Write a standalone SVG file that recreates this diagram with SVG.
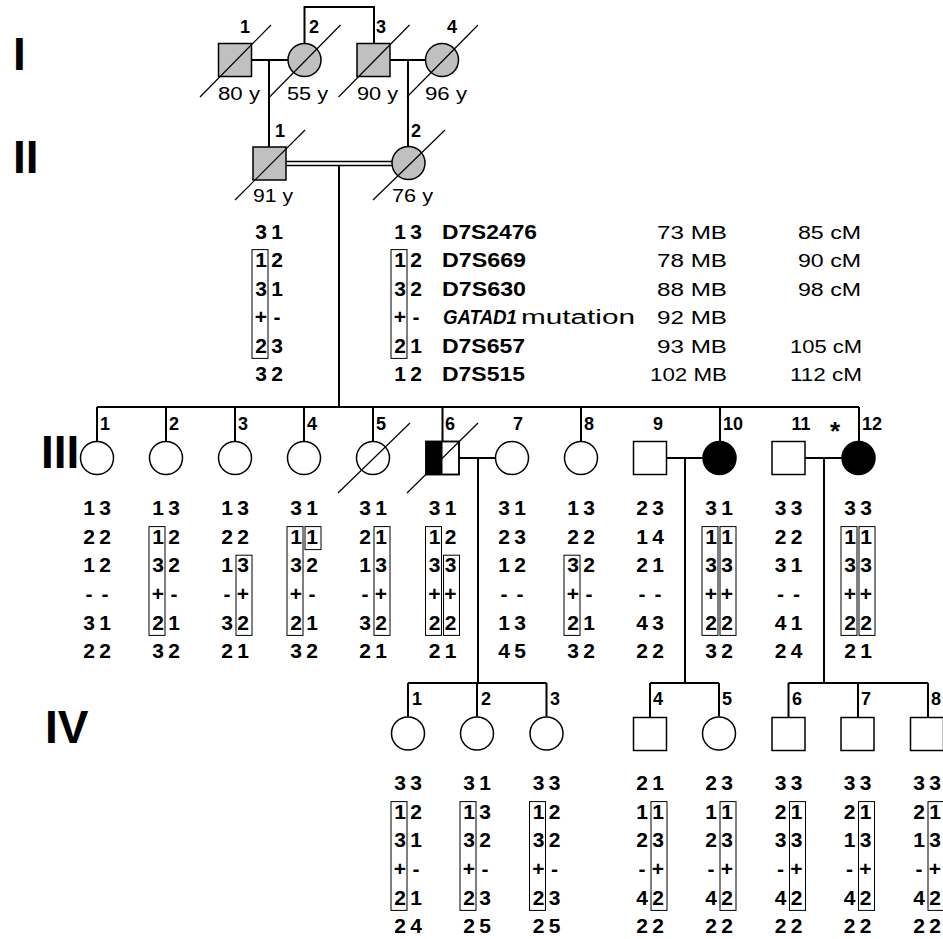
<svg xmlns="http://www.w3.org/2000/svg" width="943" height="939" viewBox="0 0 943 939">
<style>
.ln{stroke:#000;stroke-width:2;fill:none}
.sym{stroke:#000;stroke-width:1.5;fill:#fff}
.dec{fill:#c0c0c0}
.aff{fill:#000}
.sl{stroke:#000;stroke-width:1.2}
.bx{fill:none;stroke:#000;stroke-width:1}
.gen{font-family:"Liberation Sans",Arial,sans-serif;font-weight:bold;font-size:46px}
.id{font-family:"Liberation Sans",Arial,sans-serif;font-weight:bold;font-size:18px}
.idm{font-family:"Liberation Sans",Arial,sans-serif;font-weight:bold;font-size:18px;text-anchor:middle}
.hp{font-family:"Liberation Sans",Arial,sans-serif;font-weight:bold;font-size:21px;text-anchor:middle}
.age{font-family:"Liberation Sans",Arial,sans-serif;font-size:18px}
.mk{font-family:"Liberation Sans",Arial,sans-serif;font-weight:bold;font-size:20px}
.nm{font-family:"Liberation Sans",Arial,sans-serif;font-size:20px}
.nme{font-family:"Liberation Sans",Arial,sans-serif;font-size:18px;text-anchor:end}
</style>

<g id="generation-labels">
<text class="gen" x="13" y="70">I</text>
<text class="gen" x="13" y="173">II</text>
<text class="gen" x="41" y="468">III</text>
<text class="gen" x="45" y="743">IV</text>
</g>

<g id="connectors">
<path class="ln" d="M251.5 60H288M269 60V147M304.5 43.5V7H374V43.5M390 60H425.5M408 60V146.5"/>
<path class="ln" style="stroke-width:1.5" d="M286 161.5H392M286 165.5H392"/>
<path class="ln" d="M339 165.5V407M97 407H859"/>
<path class="ln" d="M97 407V441.5M166 407V441.5M235 407V441.5M304 407V441.5M373 407V441.5M442.5 407V441.5M581 407V441.5M720 407V441.5M859 407V441.5"/>
<path class="ln" d="M459 458H495.5M478 458V683M408 683H546.5M408 683V716.5M477 683V716.5M546.5 683V716.5"/>
<path class="ln" d="M666.5 458H702.5M685 458V683M650 683H719M650 683V717.5M719 683V716.5"/>
<path class="ln" d="M805 458H841.5M824 458V683M788.5 683H928M788.5 683V717.5M858 683V717.5M928 683V717.5"/>
</g>

<g id="I-1">
<rect class="sym dec" x="218.5" y="43.5" width="33" height="33"/>
<line class="sl" x1="200" y1="97" x2="271" y2="25"/>
<text class="idm" x="245" y="33">1</text>
<text class="age" x="218" y="100" textLength="42" lengthAdjust="spacingAndGlyphs">80 y</text>
</g>
<g id="I-2">
<circle class="sym dec" cx="304.5" cy="60" r="16.5"/>
<line class="sl" x1="269.5" y1="97" x2="340.5" y2="25"/>
<text class="id" x="309" y="33">2</text>
<text class="age" x="287" y="100" textLength="41" lengthAdjust="spacingAndGlyphs">55 y</text>
</g>
<g id="I-3">
<rect class="sym dec" x="357" y="43.5" width="33" height="33"/>
<line class="sl" x1="338.5" y1="97" x2="409.5" y2="25"/>
<text class="id" x="376" y="33">3</text>
<text class="age" x="357" y="100" textLength="41" lengthAdjust="spacingAndGlyphs">90 y</text>
</g>
<g id="I-4">
<circle class="sym dec" cx="442" cy="60" r="16.5"/>
<line class="sl" x1="407" y1="97" x2="478" y2="25"/>
<text class="idm" x="452" y="33">4</text>
<text class="age" x="425" y="100" textLength="42" lengthAdjust="spacingAndGlyphs">96 y</text>
</g>

<g id="II-1">
<rect class="sym dec" x="253" y="147" width="33" height="33"/>
<line class="sl" x1="235" y1="200" x2="305" y2="130"/>
<text class="id" x="275" y="137">1</text>
<text class="age" x="253" y="202" textLength="40" lengthAdjust="spacingAndGlyphs">91 y</text>
<rect class="bx" x="252" y="249.6" width="16" height="108.8"/>
<text class="hp" y="238.5"><tspan x="261">3</tspan><tspan x="277">1</tspan></text>
<text class="hp" y="267"><tspan x="261">1</tspan><tspan x="277">2</tspan></text>
<text class="hp" y="295.5"><tspan x="261">3</tspan><tspan x="277">1</tspan></text>
<text class="hp" y="324"><tspan x="261">+</tspan><tspan x="277">-</tspan></text>
<text class="hp" y="352.5"><tspan x="261">2</tspan><tspan x="277">3</tspan></text>
<text class="hp" y="381"><tspan x="261">3</tspan><tspan x="277">2</tspan></text>
</g>
<g id="II-2">
<circle class="sym dec" cx="408.5" cy="163" r="16.5"/>
<line class="sl" x1="373" y1="200" x2="445" y2="130"/>
<text class="id" x="411" y="137">2</text>
<text class="age" x="392" y="202" textLength="41" lengthAdjust="spacingAndGlyphs">76 y</text>
<rect class="bx" x="391" y="249.6" width="16" height="108.8"/>
<text class="hp" y="238.5"><tspan x="400">1</tspan><tspan x="416">3</tspan></text>
<text class="hp" y="267"><tspan x="400">1</tspan><tspan x="416">2</tspan></text>
<text class="hp" y="295.5"><tspan x="400">3</tspan><tspan x="416">2</tspan></text>
<text class="hp" y="324"><tspan x="400">+</tspan><tspan x="416">-</tspan></text>
<text class="hp" y="352.5"><tspan x="400">2</tspan><tspan x="416">1</tspan></text>
<text class="hp" y="381"><tspan x="400">1</tspan><tspan x="416">2</tspan></text>
</g>

<g id="marker-legend">
<text class="mk" x="442" y="238.5" textLength="95" lengthAdjust="spacingAndGlyphs">D7S2476</text>
<text class="mk" x="442" y="267" textLength="84" lengthAdjust="spacingAndGlyphs">D7S669</text>
<text class="mk" x="442" y="295.5" textLength="84" lengthAdjust="spacingAndGlyphs">D7S630</text>
<text class="mk" x="443" y="324" style="font-style:italic" textLength="74" lengthAdjust="spacingAndGlyphs">GATAD1</text>
<text class="nm" x="521" y="324" textLength="114" lengthAdjust="spacingAndGlyphs">mutation</text>
<text class="mk" x="442" y="352.5" textLength="83" lengthAdjust="spacingAndGlyphs">D7S657</text>
<text class="mk" x="442" y="381" textLength="83" lengthAdjust="spacingAndGlyphs">D7S515</text>
<text class="nme" x="727" y="238.5" textLength="70" lengthAdjust="spacingAndGlyphs">73 MB</text>
<text class="nme" x="727" y="267" textLength="70" lengthAdjust="spacingAndGlyphs">78 MB</text>
<text class="nme" x="727" y="295.5" textLength="70" lengthAdjust="spacingAndGlyphs">88 MB</text>
<text class="nme" x="727" y="324" textLength="70" lengthAdjust="spacingAndGlyphs">92 MB</text>
<text class="nme" x="727" y="352.5" textLength="70" lengthAdjust="spacingAndGlyphs">93 MB</text>
<text class="nme" x="727" y="381" textLength="77" lengthAdjust="spacingAndGlyphs">102 MB</text>
<text class="nme" x="861" y="238.5" textLength="63" lengthAdjust="spacingAndGlyphs">85 cM</text>
<text class="nme" x="861" y="267" textLength="63" lengthAdjust="spacingAndGlyphs">90 cM</text>
<text class="nme" x="861" y="295.5" textLength="63" lengthAdjust="spacingAndGlyphs">98 cM</text>
<text class="nme" x="862" y="352.5" textLength="72" lengthAdjust="spacingAndGlyphs">105 cM</text>
<text class="nme" x="862" y="381" textLength="72" lengthAdjust="spacingAndGlyphs">112 cM</text>
</g>

<g id="III-1">
<circle class="sym" cx="97" cy="458" r="16.5"/>
<text class="id" x="100" y="430">1</text>
<text class="hp" y="515"><tspan x="89">1</tspan><tspan x="105">3</tspan></text>
<text class="hp" y="543.5"><tspan x="89">2</tspan><tspan x="105">2</tspan></text>
<text class="hp" y="572"><tspan x="89">1</tspan><tspan x="105">2</tspan></text>
<text class="hp" y="601"><tspan x="89">-</tspan><tspan x="105">-</tspan></text>
<text class="hp" y="629.5"><tspan x="89">3</tspan><tspan x="105">1</tspan></text>
<text class="hp" y="658"><tspan x="89">2</tspan><tspan x="105">2</tspan></text>
</g>
<g id="III-2">
<circle class="sym" cx="166" cy="458" r="16.5"/>
<text class="id" x="169" y="430">2</text>
<rect class="bx" x="149" y="526.6" width="16" height="108.8"/>
<text class="hp" y="515"><tspan x="158">1</tspan><tspan x="174">3</tspan></text>
<text class="hp" y="543.5"><tspan x="158">1</tspan><tspan x="174">2</tspan></text>
<text class="hp" y="572"><tspan x="158">3</tspan><tspan x="174">2</tspan></text>
<text class="hp" y="601"><tspan x="158">+</tspan><tspan x="174">-</tspan></text>
<text class="hp" y="629.5"><tspan x="158">2</tspan><tspan x="174">1</tspan></text>
<text class="hp" y="658"><tspan x="158">3</tspan><tspan x="174">2</tspan></text>
</g>
<g id="III-3">
<circle class="sym" cx="235" cy="458" r="16.5"/>
<text class="id" x="238" y="430">3</text>
<rect class="bx" x="236" y="555.2" width="16" height="80.2"/>
<text class="hp" y="515"><tspan x="227">1</tspan><tspan x="243">3</tspan></text>
<text class="hp" y="543.5"><tspan x="227">2</tspan><tspan x="243">2</tspan></text>
<text class="hp" y="572"><tspan x="227">1</tspan><tspan x="243">3</tspan></text>
<text class="hp" y="601"><tspan x="227">-</tspan><tspan x="243">+</tspan></text>
<text class="hp" y="629.5"><tspan x="227">3</tspan><tspan x="243">2</tspan></text>
<text class="hp" y="658"><tspan x="227">2</tspan><tspan x="243">1</tspan></text>
</g>
<g id="III-4">
<circle class="sym" cx="304" cy="458" r="16.5"/>
<text class="id" x="307" y="430">4</text>
<rect class="bx" x="287" y="526.6" width="16" height="108.8"/>
<rect class="bx" x="305" y="526.6" width="16" height="23"/>
<text class="hp" y="515"><tspan x="296">3</tspan><tspan x="312">1</tspan></text>
<text class="hp" y="543.5"><tspan x="296">1</tspan><tspan x="312">1</tspan></text>
<text class="hp" y="572"><tspan x="296">3</tspan><tspan x="312">2</tspan></text>
<text class="hp" y="601"><tspan x="296">+</tspan><tspan x="312">-</tspan></text>
<text class="hp" y="629.5"><tspan x="296">2</tspan><tspan x="312">1</tspan></text>
<text class="hp" y="658"><tspan x="296">3</tspan><tspan x="312">2</tspan></text>
</g>
<g id="III-5">
<circle class="sym" cx="373" cy="458" r="16.5"/>
<line class="sl" x1="338" y1="493" x2="410" y2="423"/>
<text class="id" x="376" y="430">5</text>
<rect class="bx" x="374" y="526.6" width="16" height="108.8"/>
<text class="hp" y="515"><tspan x="365">3</tspan><tspan x="381">1</tspan></text>
<text class="hp" y="543.5"><tspan x="365">2</tspan><tspan x="381">1</tspan></text>
<text class="hp" y="572"><tspan x="365">1</tspan><tspan x="381">3</tspan></text>
<text class="hp" y="601"><tspan x="365">-</tspan><tspan x="381">+</tspan></text>
<text class="hp" y="629.5"><tspan x="365">3</tspan><tspan x="381">2</tspan></text>
<text class="hp" y="658"><tspan x="365">2</tspan><tspan x="381">1</tspan></text>
</g>
<g id="III-6">
<rect class="sym" x="426" y="441.5" width="33" height="33"/>
<rect class="aff" x="426" y="441.5" width="16.5" height="33"/>
<rect class="sym" x="426" y="441.5" width="33" height="33" style="fill:none"/>
<line class="sl" x1="407" y1="493" x2="478" y2="423"/>
<text class="id" x="445" y="430">6</text>
<rect class="bx" x="425.5" y="526.6" width="16" height="108.8"/>
<rect class="bx" x="443.5" y="555.2" width="16" height="80.2"/>
<text class="hp" y="515"><tspan x="434.5">3</tspan><tspan x="450.5">1</tspan></text>
<text class="hp" y="543.5"><tspan x="434.5">1</tspan><tspan x="450.5">2</tspan></text>
<text class="hp" y="572"><tspan x="434.5">3</tspan><tspan x="450.5">3</tspan></text>
<text class="hp" y="601"><tspan x="434.5">+</tspan><tspan x="450.5">+</tspan></text>
<text class="hp" y="629.5"><tspan x="434.5">2</tspan><tspan x="450.5">2</tspan></text>
<text class="hp" y="658"><tspan x="434.5">2</tspan><tspan x="450.5">1</tspan></text>
</g>
<g id="III-7">
<circle class="sym" cx="512" cy="458" r="16.5"/>
<text class="idm" x="518" y="430">7</text>
<text class="hp" y="515"><tspan x="504">3</tspan><tspan x="520">1</tspan></text>
<text class="hp" y="543.5"><tspan x="504">2</tspan><tspan x="520">3</tspan></text>
<text class="hp" y="572"><tspan x="504">1</tspan><tspan x="520">2</tspan></text>
<text class="hp" y="601"><tspan x="504">-</tspan><tspan x="520">-</tspan></text>
<text class="hp" y="629.5"><tspan x="504">1</tspan><tspan x="520">3</tspan></text>
<text class="hp" y="658"><tspan x="504">4</tspan><tspan x="520">5</tspan></text>
</g>
<g id="III-8">
<circle class="sym" cx="581" cy="458" r="16.5"/>
<text class="id" x="584" y="430">8</text>
<rect class="bx" x="564" y="555.2" width="16" height="80.2"/>
<text class="hp" y="515"><tspan x="573">1</tspan><tspan x="589">3</tspan></text>
<text class="hp" y="543.5"><tspan x="573">2</tspan><tspan x="589">2</tspan></text>
<text class="hp" y="572"><tspan x="573">3</tspan><tspan x="589">2</tspan></text>
<text class="hp" y="601"><tspan x="573">+</tspan><tspan x="589">-</tspan></text>
<text class="hp" y="629.5"><tspan x="573">2</tspan><tspan x="589">1</tspan></text>
<text class="hp" y="658"><tspan x="573">3</tspan><tspan x="589">2</tspan></text>
</g>
<g id="III-9">
<rect class="sym" x="633.5" y="441.5" width="33" height="33"/>
<text class="idm" x="658" y="430">9</text>
<text class="hp" y="515"><tspan x="642">2</tspan><tspan x="658">3</tspan></text>
<text class="hp" y="543.5"><tspan x="642">1</tspan><tspan x="658">4</tspan></text>
<text class="hp" y="572"><tspan x="642">2</tspan><tspan x="658">1</tspan></text>
<text class="hp" y="601"><tspan x="642">-</tspan><tspan x="658">-</tspan></text>
<text class="hp" y="629.5"><tspan x="642">4</tspan><tspan x="658">3</tspan></text>
<text class="hp" y="658"><tspan x="642">2</tspan><tspan x="658">2</tspan></text>
</g>
<g id="III-10">
<circle class="sym aff" cx="719.5" cy="458" r="16.5"/>
<text class="id" x="723" y="430">10</text>
<rect class="bx" x="702" y="526.6" width="16" height="108.8"/>
<rect class="bx" x="720" y="526.6" width="16" height="108.8"/>
<text class="hp" y="515"><tspan x="711">3</tspan><tspan x="727">1</tspan></text>
<text class="hp" y="543.5"><tspan x="711">1</tspan><tspan x="727">1</tspan></text>
<text class="hp" y="572"><tspan x="711">3</tspan><tspan x="727">3</tspan></text>
<text class="hp" y="601"><tspan x="711">+</tspan><tspan x="727">+</tspan></text>
<text class="hp" y="629.5"><tspan x="711">2</tspan><tspan x="727">2</tspan></text>
<text class="hp" y="658"><tspan x="711">3</tspan><tspan x="727">2</tspan></text>
</g>
<g id="III-11">
<rect class="sym" x="772" y="441.5" width="33" height="33"/>
<text class="idm" x="801" y="430">11</text>
<text class="hp" y="515"><tspan x="780.5">3</tspan><tspan x="796.5">3</tspan></text>
<text class="hp" y="543.5"><tspan x="780.5">2</tspan><tspan x="796.5">2</tspan></text>
<text class="hp" y="572"><tspan x="780.5">3</tspan><tspan x="796.5">1</tspan></text>
<text class="hp" y="601"><tspan x="780.5">-</tspan><tspan x="796.5">-</tspan></text>
<text class="hp" y="629.5"><tspan x="780.5">4</tspan><tspan x="796.5">1</tspan></text>
<text class="hp" y="658"><tspan x="780.5">2</tspan><tspan x="796.5">4</tspan></text>
</g>
<g id="III-12">
<circle class="sym aff" cx="858.5" cy="458" r="16.5"/>
<text class="idm" x="835" y="440" style="font-size:26px">*</text>
<text class="id" x="862" y="430">12</text>
<rect class="bx" x="841" y="526.6" width="16" height="108.8"/>
<rect class="bx" x="859" y="526.6" width="16" height="108.8"/>
<text class="hp" y="515"><tspan x="850">3</tspan><tspan x="866">3</tspan></text>
<text class="hp" y="543.5"><tspan x="850">1</tspan><tspan x="866">1</tspan></text>
<text class="hp" y="572"><tspan x="850">3</tspan><tspan x="866">3</tspan></text>
<text class="hp" y="601"><tspan x="850">+</tspan><tspan x="866">+</tspan></text>
<text class="hp" y="629.5"><tspan x="850">2</tspan><tspan x="866">2</tspan></text>
<text class="hp" y="658"><tspan x="850">2</tspan><tspan x="866">1</tspan></text>
</g>

<g id="IV-1">
<circle class="sym" cx="408" cy="733.5" r="16.5"/>
<text class="id" x="412" y="705">1</text>
<rect class="bx" x="391" y="801.6" width="16" height="108.8"/>
<text class="hp" y="790"><tspan x="400">3</tspan><tspan x="416">3</tspan></text>
<text class="hp" y="818.5"><tspan x="400">1</tspan><tspan x="416">2</tspan></text>
<text class="hp" y="847"><tspan x="400">3</tspan><tspan x="416">1</tspan></text>
<text class="hp" y="876"><tspan x="400">+</tspan><tspan x="416">-</tspan></text>
<text class="hp" y="904.5"><tspan x="400">2</tspan><tspan x="416">1</tspan></text>
<text class="hp" y="933"><tspan x="400">2</tspan><tspan x="416">4</tspan></text>
</g>
<g id="IV-2">
<circle class="sym" cx="477" cy="733.5" r="16.5"/>
<text class="id" x="481" y="705">2</text>
<rect class="bx" x="460" y="801.6" width="16" height="108.8"/>
<text class="hp" y="790"><tspan x="469">3</tspan><tspan x="485">1</tspan></text>
<text class="hp" y="818.5"><tspan x="469">1</tspan><tspan x="485">3</tspan></text>
<text class="hp" y="847"><tspan x="469">3</tspan><tspan x="485">2</tspan></text>
<text class="hp" y="876"><tspan x="469">+</tspan><tspan x="485">-</tspan></text>
<text class="hp" y="904.5"><tspan x="469">2</tspan><tspan x="485">3</tspan></text>
<text class="hp" y="933"><tspan x="469">2</tspan><tspan x="485">5</tspan></text>
</g>
<g id="IV-3">
<circle class="sym" cx="546.5" cy="733.5" r="16.5"/>
<text class="id" x="550" y="705">3</text>
<rect class="bx" x="529.5" y="801.6" width="16" height="108.8"/>
<text class="hp" y="790"><tspan x="538.5">3</tspan><tspan x="554.5">3</tspan></text>
<text class="hp" y="818.5"><tspan x="538.5">1</tspan><tspan x="554.5">2</tspan></text>
<text class="hp" y="847"><tspan x="538.5">3</tspan><tspan x="554.5">2</tspan></text>
<text class="hp" y="876"><tspan x="538.5">+</tspan><tspan x="554.5">-</tspan></text>
<text class="hp" y="904.5"><tspan x="538.5">2</tspan><tspan x="554.5">3</tspan></text>
<text class="hp" y="933"><tspan x="538.5">2</tspan><tspan x="554.5">5</tspan></text>
</g>
<g id="IV-4">
<rect class="sym" x="633.5" y="717.5" width="33" height="33"/>
<text class="id" x="653" y="705">4</text>
<rect class="bx" x="651" y="801.6" width="16" height="108.8"/>
<text class="hp" y="790"><tspan x="642">2</tspan><tspan x="658">1</tspan></text>
<text class="hp" y="818.5"><tspan x="642">1</tspan><tspan x="658">1</tspan></text>
<text class="hp" y="847"><tspan x="642">2</tspan><tspan x="658">3</tspan></text>
<text class="hp" y="876"><tspan x="642">-</tspan><tspan x="658">+</tspan></text>
<text class="hp" y="904.5"><tspan x="642">4</tspan><tspan x="658">2</tspan></text>
<text class="hp" y="933"><tspan x="642">2</tspan><tspan x="658">2</tspan></text>
</g>
<g id="IV-5">
<circle class="sym" cx="719" cy="733.5" r="16.5"/>
<text class="id" x="722" y="705">5</text>
<rect class="bx" x="720" y="801.6" width="16" height="108.8"/>
<text class="hp" y="790"><tspan x="711">2</tspan><tspan x="727">3</tspan></text>
<text class="hp" y="818.5"><tspan x="711">1</tspan><tspan x="727">1</tspan></text>
<text class="hp" y="847"><tspan x="711">2</tspan><tspan x="727">3</tspan></text>
<text class="hp" y="876"><tspan x="711">-</tspan><tspan x="727">+</tspan></text>
<text class="hp" y="904.5"><tspan x="711">4</tspan><tspan x="727">2</tspan></text>
<text class="hp" y="933"><tspan x="711">2</tspan><tspan x="727">2</tspan></text>
</g>
<g id="IV-6">
<rect class="sym" x="772" y="717.5" width="33" height="33"/>
<text class="id" x="792" y="705">6</text>
<rect class="bx" x="789.5" y="801.6" width="16" height="108.8"/>
<text class="hp" y="790"><tspan x="780.5">3</tspan><tspan x="796.5">3</tspan></text>
<text class="hp" y="818.5"><tspan x="780.5">2</tspan><tspan x="796.5">1</tspan></text>
<text class="hp" y="847"><tspan x="780.5">3</tspan><tspan x="796.5">3</tspan></text>
<text class="hp" y="876"><tspan x="780.5">-</tspan><tspan x="796.5">+</tspan></text>
<text class="hp" y="904.5"><tspan x="780.5">4</tspan><tspan x="796.5">2</tspan></text>
<text class="hp" y="933"><tspan x="780.5">2</tspan><tspan x="796.5">2</tspan></text>
</g>
<g id="IV-7">
<rect class="sym" x="841" y="717.5" width="33" height="33"/>
<text class="id" x="861" y="705">7</text>
<rect class="bx" x="858.5" y="801.6" width="16" height="108.8"/>
<text class="hp" y="790"><tspan x="849.5">3</tspan><tspan x="865.5">3</tspan></text>
<text class="hp" y="818.5"><tspan x="849.5">2</tspan><tspan x="865.5">1</tspan></text>
<text class="hp" y="847"><tspan x="849.5">1</tspan><tspan x="865.5">3</tspan></text>
<text class="hp" y="876"><tspan x="849.5">-</tspan><tspan x="865.5">+</tspan></text>
<text class="hp" y="904.5"><tspan x="849.5">4</tspan><tspan x="865.5">2</tspan></text>
<text class="hp" y="933"><tspan x="849.5">2</tspan><tspan x="865.5">2</tspan></text>
</g>
<g id="IV-8">
<rect class="sym" x="910.5" y="717.5" width="33" height="33"/>
<text class="id" x="931" y="705">8</text>
<rect class="bx" x="928" y="801.6" width="16" height="108.8"/>
<text class="hp" y="790"><tspan x="919">3</tspan><tspan x="935">3</tspan></text>
<text class="hp" y="818.5"><tspan x="919">2</tspan><tspan x="935">1</tspan></text>
<text class="hp" y="847"><tspan x="919">1</tspan><tspan x="935">3</tspan></text>
<text class="hp" y="876"><tspan x="919">-</tspan><tspan x="935">+</tspan></text>
<text class="hp" y="904.5"><tspan x="919">4</tspan><tspan x="935">2</tspan></text>
<text class="hp" y="933"><tspan x="919">2</tspan><tspan x="935">2</tspan></text>
</g>
</svg>
